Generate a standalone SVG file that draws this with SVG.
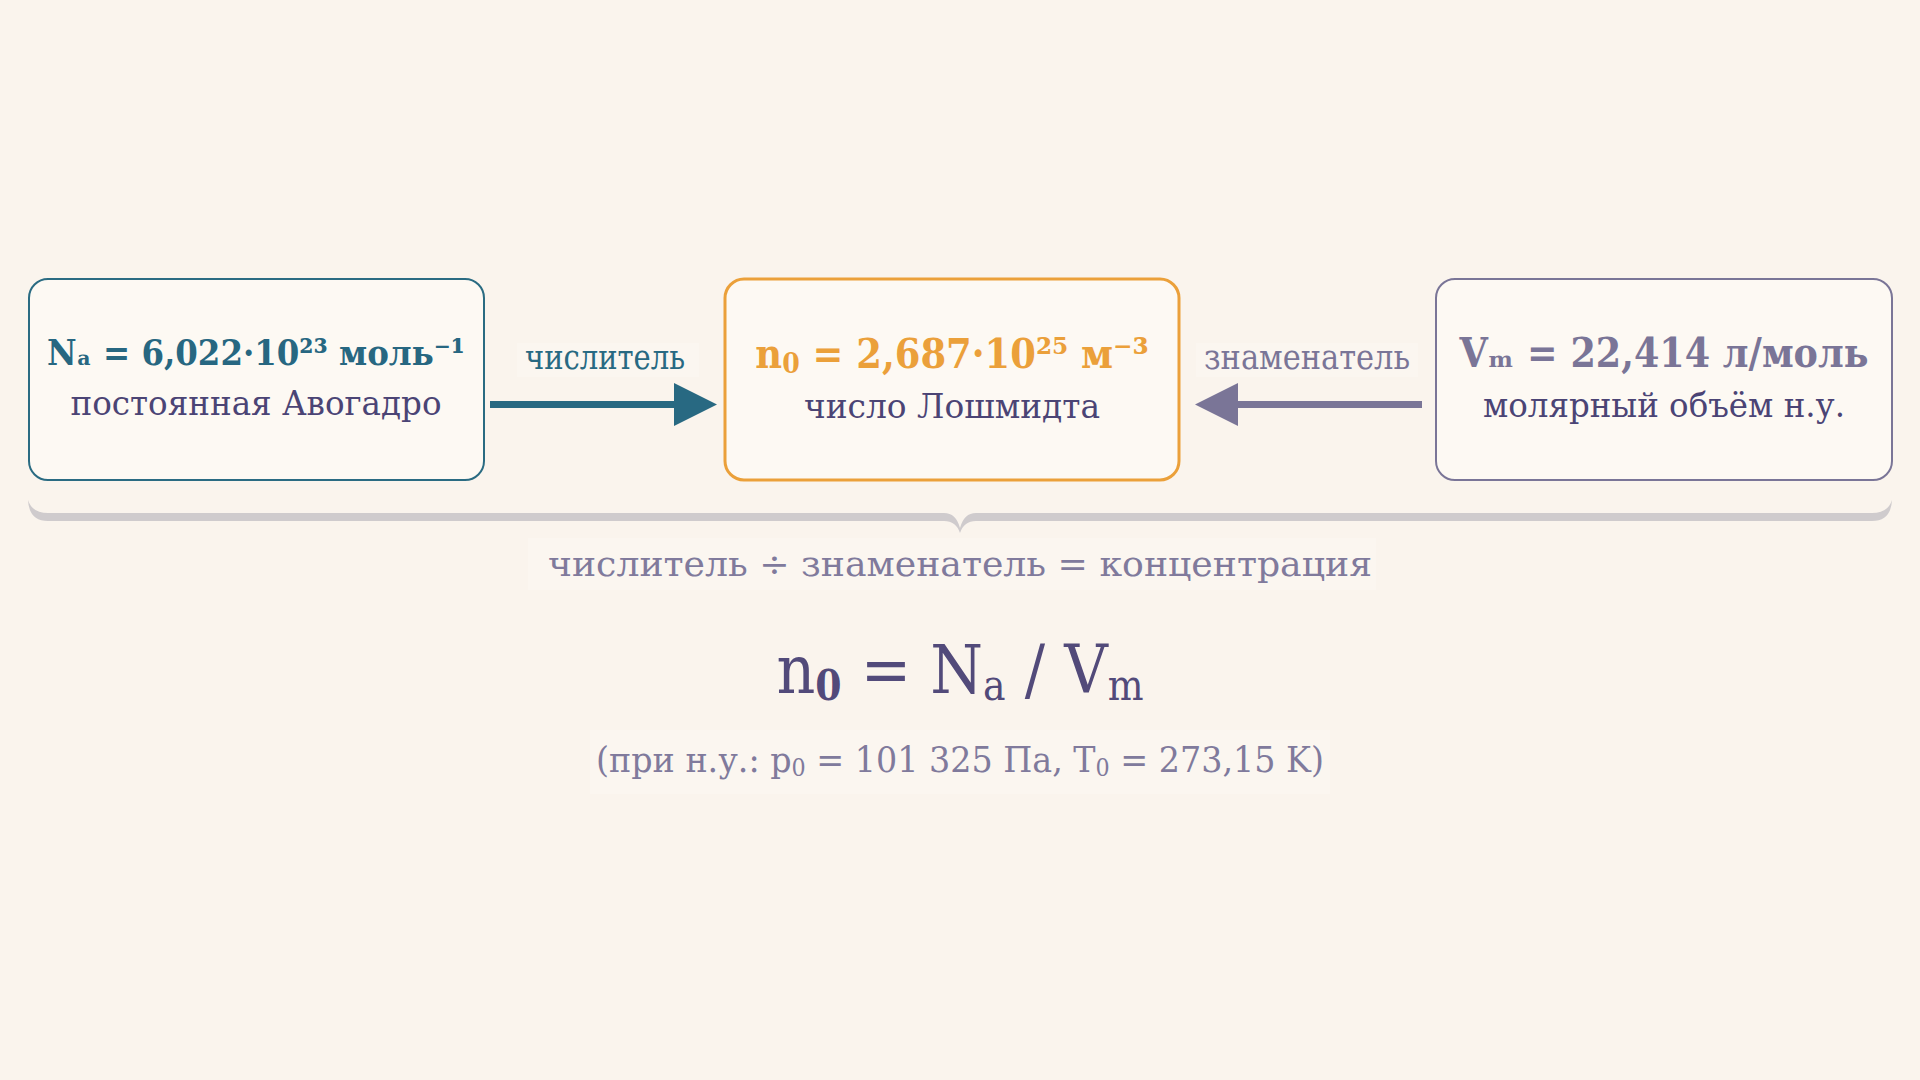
<svg xmlns="http://www.w3.org/2000/svg" width="1920" height="1080" viewBox="0 0 1920 1080">
  <defs>
    <style>
      .bg { fill: #faf4ed; }
      .box { fill: #fdf9f3; }
      .title { font-family: "DejaVu Serif", "Liberation Serif", serif; font-weight: bold; font-stretch: condensed; text-anchor: middle; }
      .sub { font-family: "DejaVu Serif", "Liberation Serif", serif; font-stretch: condensed; text-anchor: middle; fill: #4b4475; font-size: 33px; }
      .lbl { font-family: "DejaVu Serif", "Liberation Serif", serif; font-stretch: condensed; text-anchor: middle; font-size: 36px; }
      .halo { fill: #fbf6f0; }
    </style>
    <marker id="headTeal" markerUnits="userSpaceOnUse" markerWidth="43" markerHeight="43" viewBox="0 0 43 43" refX="6" refY="21.5" orient="auto">
      <polygon points="0,0 43,21.5 0,43" fill="#286982"/>
    </marker>
    <marker id="headPurple" markerUnits="userSpaceOnUse" markerWidth="43" markerHeight="43" viewBox="0 0 43 43" refX="6" refY="21.5" orient="auto">
      <polygon points="0,0 43,21.5 0,43" fill="#7a7597"/>
    </marker>
  </defs>

  <rect class="bg" x="0" y="0" width="1920" height="1080"/>

  <g id="connectors">
    <rect class="halo" x="517" y="343" width="182" height="34"/>
    <text class="lbl" x="605" y="369" fill="#286982" textLength="160" lengthAdjust="spacingAndGlyphs">числитель</text>
    <path d="M490,404.5 L680,404.5" stroke="#286982" stroke-width="7" fill="none" marker-end="url(#headTeal)"/>
    <rect class="halo" x="1196" y="343" width="222" height="34"/>
    <text class="lbl" x="1307" y="369" fill="#7a7597" textLength="206" lengthAdjust="spacingAndGlyphs">знаменатель</text>
    <path d="M1422,404.5 L1232,404.5" stroke="#7a7597" stroke-width="7" fill="none" marker-end="url(#headPurple)"/>
  </g>

  <g id="node-avogadro">
    <rect class="box" x="29" y="279" width="455" height="201" rx="19" stroke="#2a6b82" stroke-width="2"/>
    <text class="title" x="256" y="365" font-size="36" fill="#276781" textLength="418" lengthAdjust="spacingAndGlyphs">Nₐ = 6,022·10²³ моль⁻¹</text>
    <text class="sub" x="256" y="415" textLength="371" lengthAdjust="spacingAndGlyphs">постоянная Авогадро</text>
  </g>

  <g id="node-loschmidt">
    <rect class="box" x="725" y="279" width="454" height="201" rx="19" stroke="#eba03a" stroke-width="3"/>
    <text class="title" x="952" y="368" font-size="41" fill="#eba03a">n<tspan font-size="28" dy="5">0</tspan><tspan dy="-5"> = 2,687·10²⁵ м⁻³</tspan></text>
    <text class="sub" x="952" y="418" textLength="296" lengthAdjust="spacingAndGlyphs">число Лошмидта</text>
  </g>

  <g id="node-molar-volume">
    <rect class="box" x="1436" y="279" width="456" height="201" rx="19" stroke="#7a7597" stroke-width="2"/>
    <text class="title" x="1664" y="367" font-size="41" fill="#7a7597" textLength="409" lengthAdjust="spacingAndGlyphs">Vₘ = 22,414 л/моль</text>
    <text class="sub" x="1664" y="417" textLength="362" lengthAdjust="spacingAndGlyphs">молярный объём н.у.</text>
  </g>

  <g id="brace">
    <path d="M28,500 Q29,521 48,521 L944,521 Q956,521 960,533 Q964,521 976,521 L1872,521 Q1891,521 1892,500 Q1888,513 1872,513 L976,513 Q964,513 960,528 Q956,513 944,513 L48,513 Q32,513 28,500 Z" fill="#cfcbcd"/>
  </g>

  <g id="summary">
    <rect class="halo" x="528" y="538" width="848" height="52"/>
    <text class="lbl" x="960" y="576" font-size="39" fill="#807a9c" textLength="824" lengthAdjust="spacingAndGlyphs">числитель ÷ знаменатель = концентрация</text>
    <text x="960" y="693" font-family="DejaVu Serif, Liberation Serif, serif" font-stretch="condensed" font-size="67" fill="#524a7a" text-anchor="middle">n<tspan font-size="42" font-weight="bold" dy="7">0</tspan><tspan dy="-7"> = N</tspan><tspan font-size="42" dy="7">a</tspan><tspan dy="-7"> / V</tspan><tspan font-size="42" dy="7">m</tspan></text>
    <rect class="halo" x="590" y="730" width="740" height="64"/>
    <text class="lbl" x="960" y="772" font-size="36" fill="#807a9c" textLength="728" lengthAdjust="spacingAndGlyphs">(при н.у.: p<tspan font-size="24" dy="4">0</tspan><tspan dy="-4"> = 101 325 Па, T</tspan><tspan font-size="24" dy="4">0</tspan><tspan dy="-4"> = 273,15 K)</tspan></text>
  </g>
</svg>
